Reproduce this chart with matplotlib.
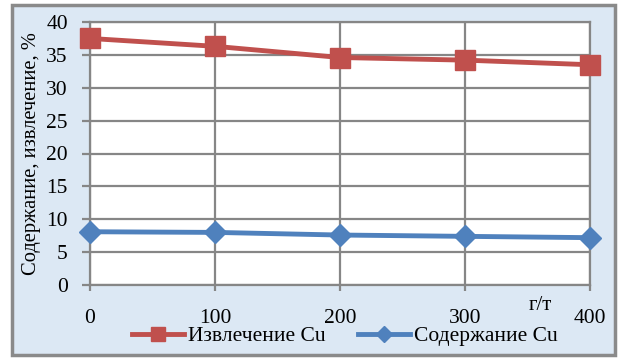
import matplotlib
matplotlib.use("Agg")
import matplotlib.pyplot as plt
from matplotlib.patches import Rectangle

x_vals = [0, 100, 200, 300, 400]
extraction = [37.5, 36.3, 34.6, 34.2, 33.5]
content = [8.1, 8.0, 7.6, 7.4, 7.2]
y_ticks = [0, 5, 10, 15, 20, 25, 30, 35, 40]
label_extraction = "Извлечение Cu"
label_content = "Содержание Cu"
y_label = "Содержание, извлечение, %"
x_unit = "г/т"

plt.rcParams['font.family'] = ['Liberation Serif', 'DejaVu Serif']

fig = plt.figure(figsize=(6.21, 3.6), dpi=100)
fig.patch.set_facecolor('white')
bg = Rectangle((12/621, 5/360), (615-12)/621, (355-5)/360, transform=fig.transFigure,
               facecolor='#dce8f4', edgecolor='#8a8a8a', linewidth=2.5, zorder=-10)
fig.patches.append(bg)

ax = fig.add_axes([90/621, 75/360, 500/621, 263/360])
ax.set_facecolor('white')

grid_c = '#868686'
ax.plot(x_vals, extraction, color='#c0504d', lw=3.5, marker='s', markersize=14,
        label=label_extraction, clip_on=False, zorder=5)
ax.plot(x_vals, content, color='#4f81bd', lw=3.5, marker='D', markersize=11,
        label=label_content, clip_on=False, zorder=5)

ax.set_xlim(0, 400)
ax.set_ylim(0, 40)
ax.set_xticks(x_vals)
ax.set_yticks(y_ticks)
ax.grid(True, color=grid_c, lw=1.6)
ax.set_axisbelow(True)
for s in ax.spines.values():
    s.set_color(grid_c)
    s.set_linewidth(1.6)
ax.tick_params(axis='x', length=4, width=1.6, color=grid_c, pad=13, labelsize=15.5)
ax.tick_params(axis='y', length=6, width=1.6, color=grid_c, pad=10, labelsize=15.5)
ax.set_ylabel(y_label, fontsize=14.8, labelpad=4)

fig.text(540/621, 1 - 306/360, x_unit, fontsize=15, ha='center', va='center')

fig.legend(loc='center', bbox_to_anchor=(345/621, 24/360), ncol=2, frameon=False,
           fontsize=15.5, handlelength=2.4, columnspacing=1.5, handletextpad=0.2,
           markerscale=0.7, borderaxespad=0)

fig.savefig('out.png', dpi=100)
